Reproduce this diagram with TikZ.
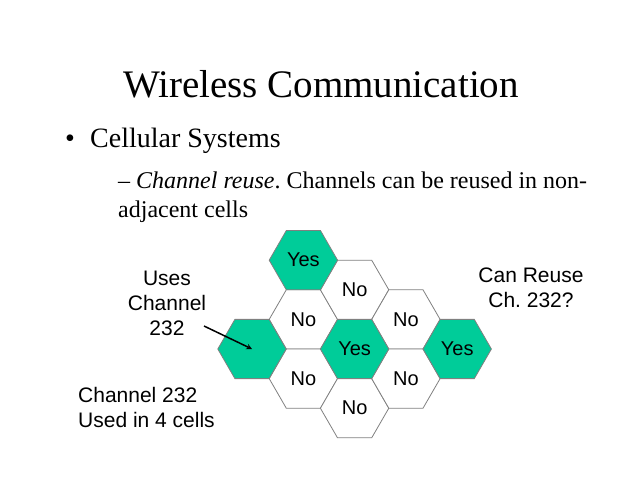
\documentclass[tikz,border=0pt]{standalone}
\usepackage{fontspec}
\setmainfont{Liberation Serif}
\setsansfont{Liberation Sans}
\usetikzlibrary{shapes.geometric}
\definecolor{reuse}{RGB}{0,204,153}
\definecolor{edge}{RGB}{128,128,128}
\frenchspacing
\begin{document}
\begin{tikzpicture}[>=stealth, x=1pt, y=-1pt,
    cell/.style={regular polygon, regular polygon sides=6, minimum size=68.4pt, inner sep=0pt, draw=edge, line width=0.8pt, font=\sffamily\fontsize{20}{24}\selectfont},
    free/.style={cell, fill=white},
    used/.style={cell, fill=reuse},
    note/.style={inner sep=0pt, font=\sffamily\fontsize{21}{25}\selectfont}]
    \useasboundingbox (0,0) rectangle (640,480);
    \node[anchor=base, font=\fontsize{39}{47}\selectfont] (title) at (321,97) {Wireless Communication};
    \node[anchor=base, font=\fontsize{28}{34}\selectfont] (dot) at (70,147) {\textbullet};
    \node[anchor=base west, inner sep=0pt, font=\fontsize{28}{34}\selectfont] (item) at (90,147) {Cellular Systems};
    \node[anchor=base west, inner sep=0pt, font=\fontsize{24}{29}\selectfont] (sub) at (118,188) {-- {\itshape Channel reuse}. Channels can be reused in non-};
    \node[anchor=base west, inner sep=0pt, font=\fontsize{24}{29}\selectfont] (subrest) at (118,217) {adjacent cells};
    \node[free] (noMidL) at (303.4,319.4) {No};
    \node[free] (noLowL) at (303.4,378.6) {No};
    \node[free] (noUp) at (354.6,289.8) {No};
    \node[free] (noDown) at (354.6,408.2) {No};
    \node[free] (noMidR) at (405.9,319.4) {No};
    \node[free] (noLowR) at (405.9,378.6) {No};
    \node[used] (own) at (252,349) {};
    \node[used] (yesTop) at (303.4,260.2) {Yes};
    \node[used] (yesMid) at (354.6,349) {Yes};
    \node[used] (yesRight) at (457.2,349) {Yes};
    \node[note, align=center] (uses) at (167,303) {Uses\\Channel\\232};
    \node[note, align=center] (ask) at (531,288) {Can Reuse\\Ch. 232?};
    \node[note, align=left, anchor=west] (count) at (78,407.5) {Channel 232\\Used in 4 cells};
    \coordinate (tail) at (204,326);
    \draw[->, line width=1.5pt] (tail) -- (own.center);
\end{tikzpicture}
\end{document}
